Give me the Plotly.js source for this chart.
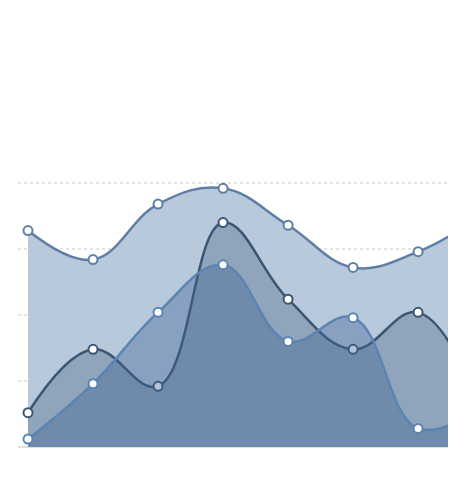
<!DOCTYPE html>
<html>
<head>
<meta charset="utf-8">
<script src="https://cdn.plot.ly/plotly-3.0.1.min.js"></script>
<style>
  html, body { margin: 0; padding: 0; background: #fff; }
  #chart { width: 465px; height: 481px; }
</style>
</head>
<body>
<div id="chart"></div>
<script>
// one category per marker; the last one sits just past the right edge
const categories = [0, 1, 2, 3, 4, 5, 6, 7];

const seriesBack = [82, 71, 92, 98, 84, 68, 74, 88];
const seriesMid = [13, 37, 23, 85, 56, 37, 51, 12];
const seriesFront = [3, 24, 51, 69, 40, 49, 7, 16];

function areaTrace(values, lineColor, fillColor) {
  return {
    type: 'scatter', mode: 'lines+markers',
    x: categories, y: values,
    fill: 'tozeroy', fillcolor: fillColor,
    line: { color: lineColor, width: 2.5, shape: 'spline', smoothing: 1.15 },
    marker: { color: '#ffffff', size: 9, line: { color: lineColor, width: 2 } },
    hoverinfo: 'skip', showlegend: false
  };
}

const traces = [
  areaTrace(seriesBack, '#5d7fa5', '#b9c9dc'),
  areaTrace(seriesMid, '#3b5673', 'rgba(70,95,125,0.35)'),
  areaTrace(seriesFront, '#5b84b3', 'rgba(61,98,146,0.38)')
];

const layout = {
  width: 465, height: 481,
  paper_bgcolor: '#ffffff', plot_bgcolor: '#ffffff',
  margin: { l: 18, r: 17, t: 150, b: 34 },
  xaxis: {
    range: [-0.154, 6.46],
    showgrid: false, zeroline: false, showticklabels: false, ticks: '',
    showline: false
  },
  yaxis: {
    range: [0, 112.5], dtick: 25,
    showgrid: true, gridcolor: '#e4e4e4', griddash: 'dot', gridwidth: 1.5,
    zeroline: true, zerolinecolor: '#e0e0e0', zerolinewidth: 2,
    showticklabels: false, ticks: ''
  },
  showlegend: false
};

Plotly.newPlot('chart', traces, layout, { displayModeBar: false, staticPlot: true });
</script>
</body>
</html>
